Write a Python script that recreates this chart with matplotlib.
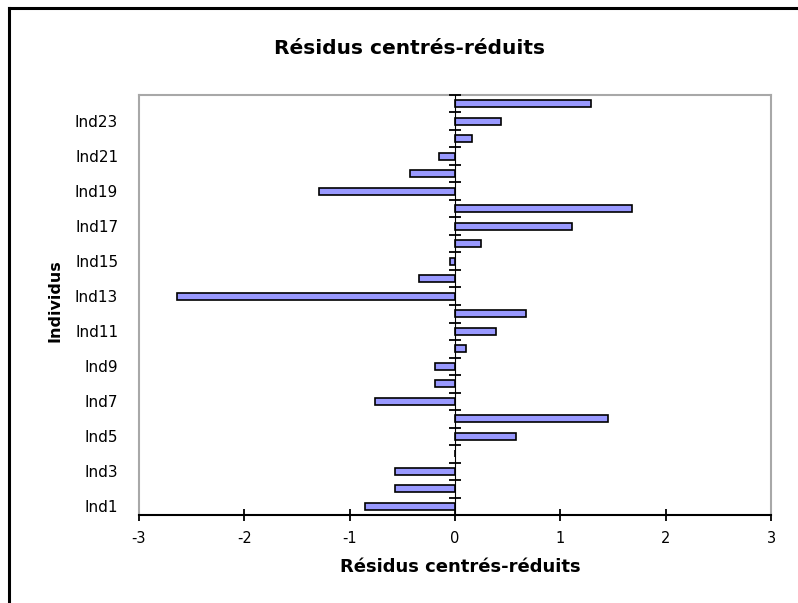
import matplotlib
matplotlib.use("Agg")
import matplotlib.pyplot as plt
from matplotlib.lines import Line2D

plt.rcParams['font.family'] = ['DejaVu Sans']

individus = ["Ind1", "Ind2", "Ind3", "Ind4", "Ind5", "Ind6", "Ind7", "Ind8",
             "Ind9", "Ind10", "Ind11", "Ind12", "Ind13", "Ind14", "Ind15", "Ind16",
             "Ind17", "Ind18", "Ind19", "Ind20", "Ind21", "Ind22", "Ind23", "Ind24"]
residus = [-0.85, -0.57, -0.57, 0.0, 0.58, 1.45, -0.76, -0.19,
           -0.19, 0.10, 0.39, 0.67, -2.64, -0.34, -0.05, 0.25,
           1.11, 1.68, -1.29, -0.43, -0.15, 0.16, 0.44, 1.29]
x_ticks = [-3, -2, -1, 0, 1, 2, 3]

W, H = 798, 603
fig = plt.figure(figsize=(W / 100, H / 100), dpi=100)
fig.patch.set_facecolor("white")

# plot area in pixel coordinates
left, right, top, bottom = 139, 771, 95, 515
ax = fig.add_axes([left / W, 1 - bottom / H, (right - left) / W, (bottom - top) / H])

pos = list(range(len(individus)))
ax.barh(pos, residus, height=0.42, color="#9999FF", edgecolor="black",
        linewidth=1.2, zorder=3)

ax.set_xlim(-3, 3)
ax.set_ylim(-0.5, len(individus) - 0.5)

ax.set_xticks(x_ticks)
ax.set_xticklabels([str(t) for t in x_ticks])
ax.tick_params(axis="x", direction="inout", length=9, width=1.3, color="black",
               labelsize=10.5, pad=7)

ax.set_yticks(pos[::2])
ax.set_yticklabels(individus[::2])
ax.tick_params(axis="y", length=0, labelsize=11, pad=15)

for side in ("left", "top", "right"):
    ax.spines[side].set_color("#A8A8A8")
    ax.spines[side].set_linewidth(1.5)
ax.spines["bottom"].set_color("black")
ax.spines["bottom"].set_linewidth(1.5)

# category axis through zero with tick marks between categories
zero_axis = ax.secondary_yaxis(0.5)
zero_axis.set_yticks([p + 0.5 for p in pos])
zero_axis.set_yticklabels([])
zero_axis.tick_params(axis="y", direction="inout", length=9, width=1.3, color="black")
zero_axis.spines["left"].set_color("black")
zero_axis.spines["left"].set_linewidth(1.5)
zero_axis.set_zorder(4)

fig.text(409 / W, 1 - 48 / H, "Résidus centrés-réduits", ha="center", va="center",
         fontsize=14.5, fontweight="bold")
fig.text(460 / W, 1 - 567 / H, "Résidus centrés-réduits", ha="center", va="center",
         fontsize=13, fontweight="bold")
fig.text(55 / W, 1 - 301 / H, "Individus", ha="center", va="center",
         rotation=90, fontsize=11.5, fontweight="bold")

# chart frame
fig.add_artist(Line2D([9 / W, 1], [1 - 8 / H, 1 - 8 / H], color="black", linewidth=2.2,
                      transform=fig.transFigure))
fig.add_artist(Line2D([9 / W, 9 / W], [0, 1 - 8 / H], color="black", linewidth=2.2,
                      transform=fig.transFigure))

fig.savefig("out.png", dpi=100)
